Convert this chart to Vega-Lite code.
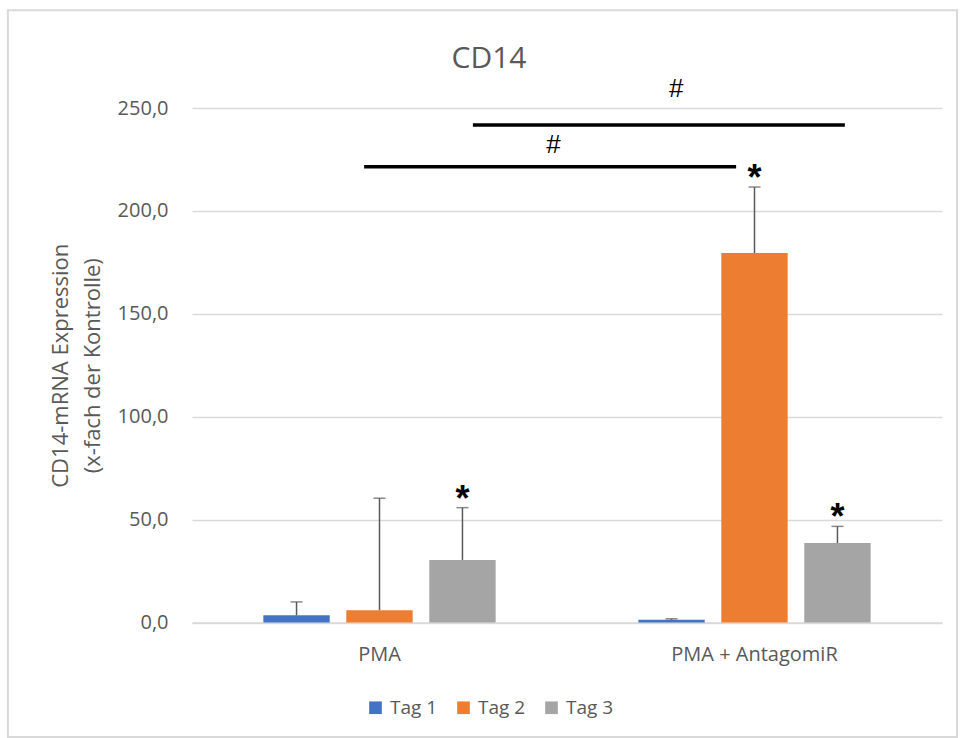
{
  "$schema": "https://vega.github.io/schema/vega-lite/v6.json",
  "width": 750,
  "height": 514.5,
  "autosize": "none",
  "padding": {"left": 192, "top": 108, "right": 18, "bottom": 115.5},
  "config": {
    "locale": {"number": {"decimal": ",", "thousands": ".", "grouping": [3], "currency": ["", " €"]}},
    "font": "Open Sans",
    "view": {"stroke": null}
  },
  "title": {"text": "CD14", "fontSize": 30, "fontWeight": "normal", "color": "#595959", "anchor": "middle", "dx": -78, "baseline": "alphabetic", "offset": -89},
  "datasets": {
    "bars": [
      {"group": "PMA", "tag": "Tag 1", "value": 3.5, "hi": 10.0, "sig": ""},
      {"group": "PMA", "tag": "Tag 2", "value": 6.0, "hi": 60.4, "sig": ""},
      {"group": "PMA", "tag": "Tag 3", "value": 30.4, "hi": 55.8, "sig": "*"},
      {"group": "PMA + AntagomiR", "tag": "Tag 1", "value": 1.3, "hi": 1.8, "sig": ""},
      {"group": "PMA + AntagomiR", "tag": "Tag 2", "value": 179.5, "hi": 211.6, "sig": "*"},
      {"group": "PMA + AntagomiR", "tag": "Tag 3", "value": 38.6, "hi": 46.7, "sig": "*"}
    ],
    "lines": [
      {"x1": 0.459, "x2": 1.451, "y": 221.4},
      {"x1": 0.749, "x2": 1.741, "y": 241.8}
    ],
    "hashes": [
      {"x": 0.964, "y": 231.8, "label": "#"},
      {"x": 1.291, "y": 259.1, "label": "#"}
    ],
    "frame": [
      {"x1": -0.491, "x2": 2.040, "y1": -55.6, "y2": 297.5}
    ]
  },
  "layer": [
    {
      "data": {"name": "bars"},
      "encoding": {
        "x": {"field": "group", "type": "nominal", "sort": ["PMA", "PMA + AntagomiR"],
          "scale": {"paddingInner": 0, "paddingOuter": 0},
          "axis": {"title": null, "labelAngle": 0, "labelFontSize": 20, "labelColor": "#595959", "ticks": false, "domainColor": "#D9D9D9", "domainWidth": 1.3, "labelPadding": 22, "labelFont": "Open Sans"}},
        "xOffset": {"field": "tag", "type": "nominal", "sort": ["Tag 1", "Tag 2", "Tag 3"],
          "scale": {"paddingInner": 0.2, "paddingOuter": 0.86}}
      },
      "layer": [
        {
          "mark": {"type": "bar"},
          "encoding": {
            "y": {"field": "value", "type": "quantitative",
              "title": ["CD14-mRNA Expression", "(x-fach der Kontrolle)"],
              "scale": {"domain": [0, 250], "nice": false},
              "axis": {"values": [0, 50, 100, 150, 200, 250], "format": ".1f",
                "titleFontSize": 22, "titleFontWeight": "normal", "titleColor": "#595959", "titleLineHeight": 32, "titlePadding": 13,
                "labelFontSize": 20, "labelColor": "#595959", "domain": false, "ticks": false, "labelPadding": 24,
                "grid": true, "gridColor": "#D9D9D9", "gridWidth": 1.3}},
            "color": {"field": "tag", "type": "nominal",
              "scale": {"domain": ["Tag 1", "Tag 2", "Tag 3"], "range": ["#4472C4", "#ED7D31", "#A5A5A5"]},
              "legend": {"title": null, "orient": "none", "legendX": 174, "legendY": 590, "direction": "horizontal",
                "labelFontSize": 19, "labelColor": "#595959", "symbolType": "square", "symbolSize": 160, "symbolStrokeWidth": 0,
                "labelOffset": 5, "columnPadding": 16, "padding": 0}}
          }
        },
        {
          "mark": {"type": "rule", "color": "#595959", "strokeWidth": 1.5},
          "encoding": {
            "y": {"field": "value", "type": "quantitative", "title": ["CD14-mRNA Expression", "(x-fach der Kontrolle)"]},
            "y2": {"field": "hi"}
          }
        },
        {
          "mark": {"type": "tick", "orient": "horizontal", "color": "#595959", "size": 12, "thickness": 1.5},
          "encoding": {
            "y": {"field": "hi", "type": "quantitative", "title": ["CD14-mRNA Expression", "(x-fach der Kontrolle)"]}
          }
        },
        {
          "mark": {"type": "text", "fontSize": 36, "font": "Liberation Sans", "fontWeight": "bold", "color": "#000000", "baseline": "middle", "dy": -8},
          "encoding": {
            "y": {"field": "hi", "type": "quantitative", "title": ["CD14-mRNA Expression", "(x-fach der Kontrolle)"]},
            "text": {"field": "sig"}
          }
        }
      ]
    },
    {
      "data": {"name": "lines"},
      "mark": {"type": "rule", "color": "#000000", "strokeWidth": 3.5},
      "encoding": {
        "x": {"field": "x1", "type": "quantitative", "scale": {"domain": [0, 2], "nice": false, "zero": false}, "axis": null},
        "x2": {"field": "x2"},
        "y": {"field": "y", "type": "quantitative", "title": ["CD14-mRNA Expression", "(x-fach der Kontrolle)"]}
      }
    },
    {
      "data": {"name": "hashes"},
      "mark": {"type": "text", "fontSize": 26, "font": "Liberation Sans", "color": "#000000", "baseline": "middle"},
      "encoding": {
        "x": {"field": "x", "type": "quantitative", "scale": {"domain": [0, 2], "nice": false, "zero": false}, "axis": null},
        "y": {"field": "y", "type": "quantitative", "title": ["CD14-mRNA Expression", "(x-fach der Kontrolle)"]},
        "text": {"field": "label"}
      }
    },
    {
      "data": {"name": "frame"},
      "mark": {"type": "rect", "fill": null, "stroke": "#D9D9D9", "strokeWidth": 2},
      "encoding": {
        "x": {"field": "x1", "type": "quantitative", "scale": {"domain": [0, 2], "nice": false, "zero": false}, "axis": null},
        "x2": {"field": "x2"},
        "y": {"field": "y1", "type": "quantitative", "title": ["CD14-mRNA Expression", "(x-fach der Kontrolle)"]},
        "y2": {"field": "y2"}
      }
    }
  ],
  "resolve": {"scale": {"x": "independent"}}
}
